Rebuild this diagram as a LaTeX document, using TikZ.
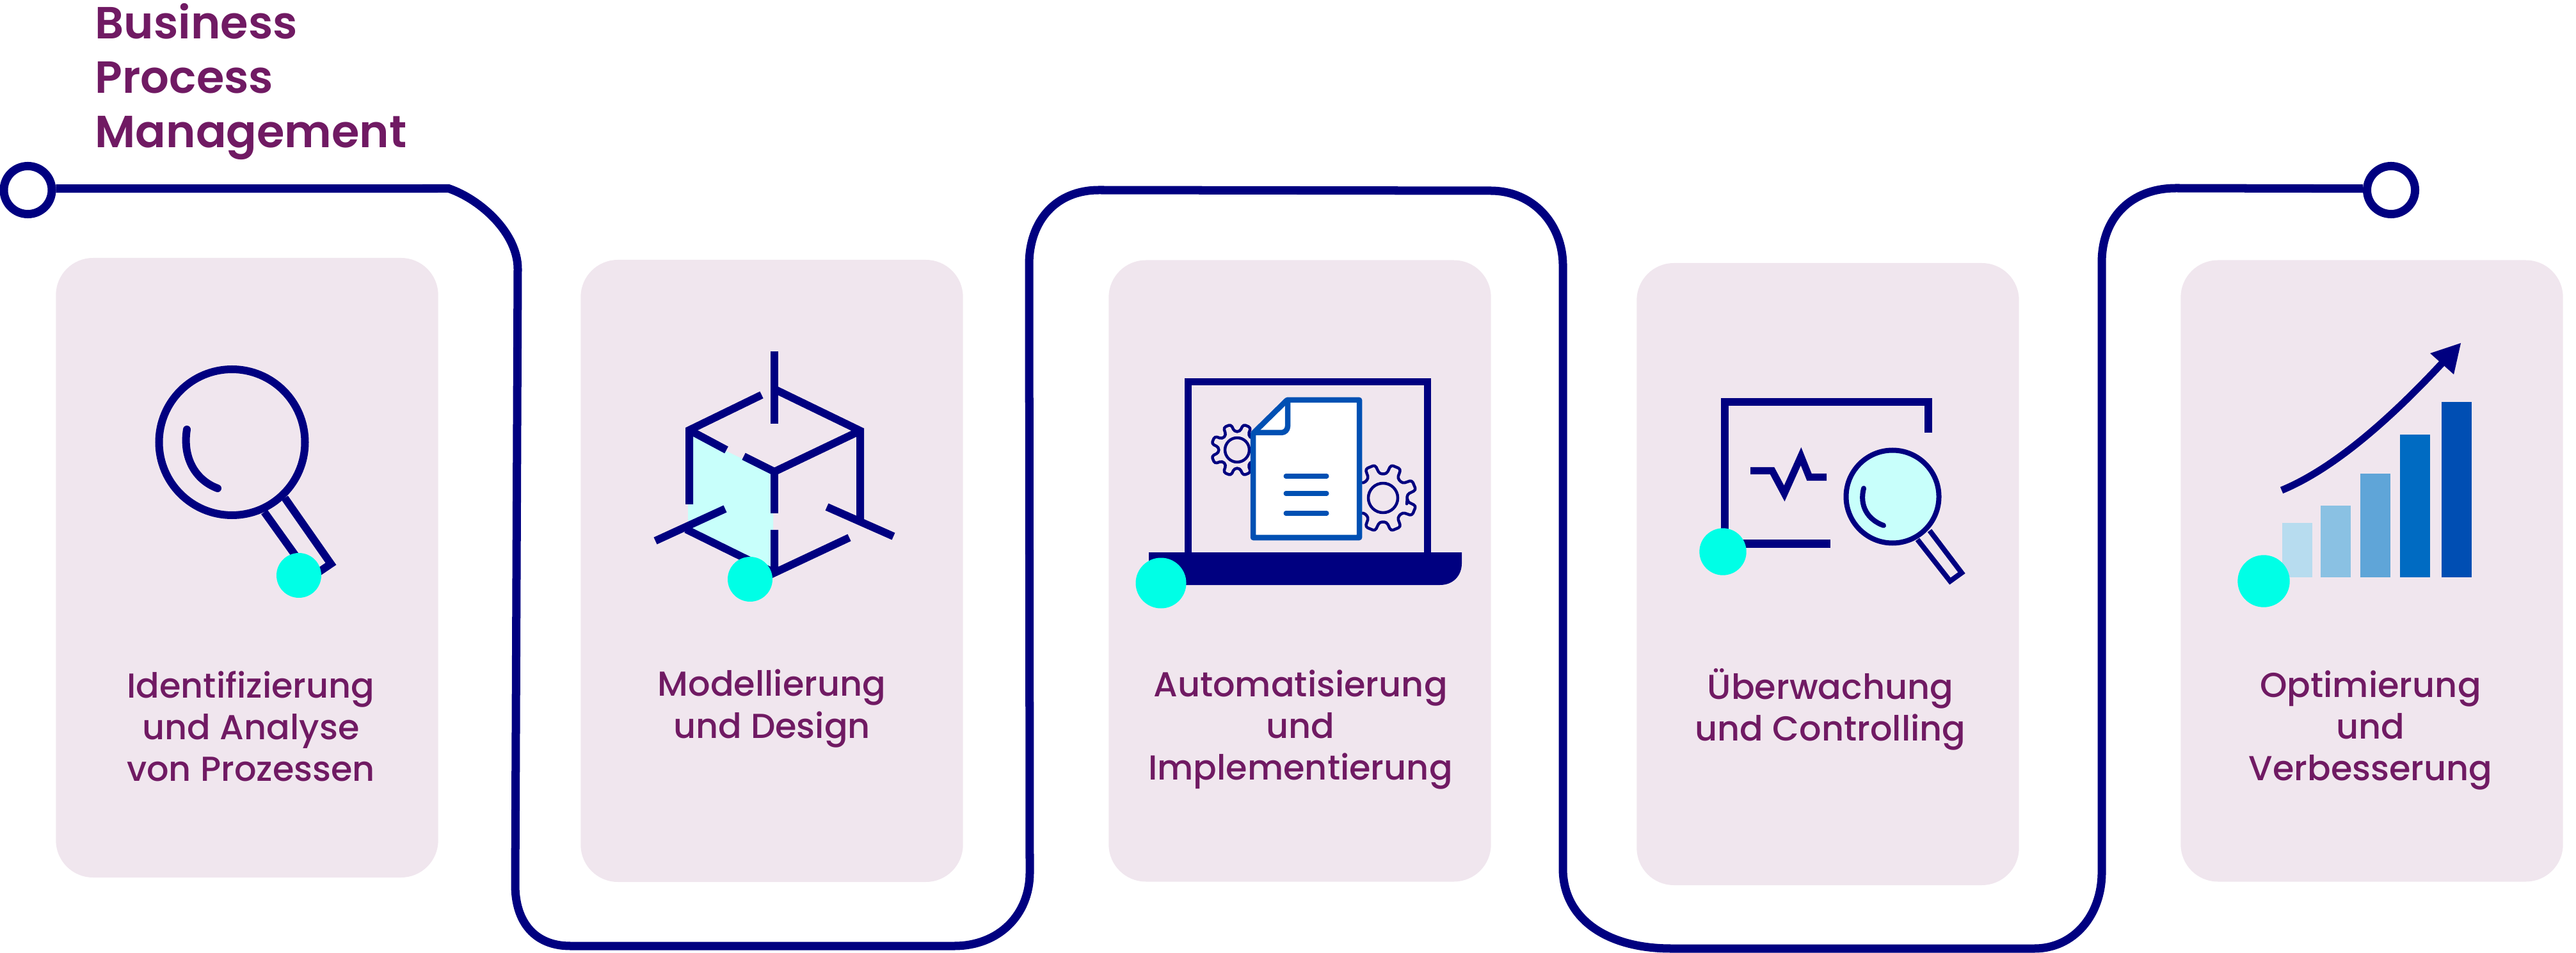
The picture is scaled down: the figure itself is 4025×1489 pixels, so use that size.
\documentclass[tikz,border=0pt]{standalone}
\usepackage{fontspec}
\setmainfont{Poppins Medium}
\newfontfamily\titlefont{Poppins SemiBold}
\definecolor{navyline}{HTML}{000080}
\definecolor{cardtint}{HTML}{F0E6EE}
\definecolor{dotcyan}{HTML}{00FFE6}
\definecolor{glasscyan}{HTML}{C8FFFB}
\definecolor{labelplum}{HTML}{701A63}
\definecolor{docblue}{HTML}{0050B3}
\begin{document}
\begin{tikzpicture}[
  x=0.01cm, y=-0.01cm,
  line join=miter,
  track/.style={line width=1.3mm, draw=navyline},
  ringnode/.style={circle, draw=navyline, line width=1.3mm, minimum size=7.5mm, inner sep=0pt},
  cardbox/.style={rectangle, fill=cardtint, rounded corners=5.8mm, minimum width=5.97cm, inner sep=0pt},
  steplabel/.style={text=labelplum, align=center, inner sep=0pt, font=\fontsize{15.4}{18.5}\selectfont},
  titlelabel/.style={text=labelplum, align=left, inner sep=0pt, anchor=north west, font=\titlefont\fontsize{20}{24.1}\selectfont},
  iconline/.style={line width=1.2mm, draw=navyline},
  thinline/.style={line width=0.8mm, draw=navyline},
  gearline/.style={line width=0.45mm, draw=navyline, line join=round},
  docline/.style={line width=0.85mm, draw=docblue, line join=round},
  textline/.style={line width=0.7mm, draw=docblue, line cap=round},
  dot/.style={fill=dotcyan},
]
\useasboundingbox (0,0) rectangle (4025,1489);

% the five cards with their labels
\foreach \cname/\cx/\cy/\ch/\lx/\ly/\ctext in {
  identify/386/887/968/392/1135/{Identifizierung\\und Analyse\\von Prozessen},
  model/1206/892/972/1206/1107/{Modellierung\\und Design},
  automate/2031/892/971/2032/1140/{Automatisierung\\und\\Implementierung},
  monitor/2856/897/972/2860/1108/{Überwachung\\und Controlling},
  optimize/3706/892/971/3704/1141/{Optimierung\\und\\Verbesserung}} {
  \node[cardbox, minimum height=\ch*0.01cm] (card\cname) at (\cx,\cy) {};
  \node[steplabel] (label\cname) at (\lx,\ly) {\ctext};
}

\node[titlelabel] (title) at (148,5) {Business\\Process\\Management};

% the track
\node[ringnode] (start) at (43.5,297) {};
\node[ringnode] (stop) at (3736,297) {};
\draw[track] (start.3) -- (701,294.5)
  .. controls (752,312) and (809,365) .. (809,420) -- (805,1383)
  .. controls (805,1440) and (835,1478) .. (891,1478) -- (1491,1478)
  .. controls (1560,1478) and (1609,1430) .. (1609,1363) -- (1608,413)
  .. controls (1608,345) and (1650,297) .. (1717,297) -- (2329,298)
  .. controls (2395,298) and (2442,350) .. (2442,415) -- (2442,1357)
  .. controls (2442,1435) and (2510,1482) .. (2611,1482) -- (3179,1482)
  .. controls (3240,1482) and (3284,1430) .. (3284,1363) -- (3284,410)
  .. controls (3284,340) and (3330,294) .. (3400,294) -- (stop.177);

% magnifying glass
\draw[iconline] (362.5,691) circle (114);
\draw[iconline, line cap=round] (292,671) .. controls (285,715) and (305,750) .. (340,763);
\draw[iconline] (413,800) -- (486,902) -- (517,881) -- (445,778);
\fill[dot] (467,899) circle (35);

% the cube
\fill[glasscyan] (1075,676) -- (1208,740) -- (1208,893) -- (1075,826) -- cycle;
\draw[iconline] (1210,549) -- (1210,662);
\draw[iconline] (1190,617) -- (1077,672) -- (1077,788);
\draw[iconline] (1210,608) -- (1344,673) -- (1344,813);
\draw[iconline] (1077,672) -- (1135,703);
\draw[iconline] (1162,713) -- (1210,737) -- (1344,673);
\draw[iconline] (1210,737) -- (1210,802);
\draw[iconline] (1210,828) -- (1210,895) -- (1327,840);
\draw[iconline] (1292,792) -- (1396,838);
\draw[iconline] (1024,845) -- (1133,795);
\draw[iconline] (1072,827) -- (1210,895);
\fill[dot] (1172,905) circle (35);

% laptop with the gears and the sheet
\draw[line width=1.1mm, draw=navyline] (1856.5,870) -- (1856.5,596.5) -- (2230.5,596.5) -- (2230.5,870);
\fill[navyline] (1795,863) -- (2284,863) -- (2284,880) .. controls (2284,900) and (2270,914) .. (2250,914) -- (1795,914) -- cycle;
\foreach \gx/\gy/\gout/\gin/\ghole in {1933/703/41/29/19, 2161/778/53/38/23} {
  \begin{scope}[shift={(\gx,\gy)}]
    \draw[gearline, rounded corners=0.4mm] (8:\gin)
      \foreach \t in {22.5,67.5,...,337.5} { -- (\t-14:\gin) -- (\t-9:\gout) -- (\t+9:\gout) -- (\t+14:\gin) } -- cycle;
    \draw[gearline] (0,0) circle (\ghole);
  \end{scope}
}
\draw[docline, fill=white] (1958,677) -- (2011,625) -- (2124,625) -- (2124,840) -- (1958,840) -- cycle;
\draw[docline, rounded corners=1mm] (2012,625) -- (2012,676) -- (1958,676);
\foreach \ty in {744,771,802} {
  \draw[textline] (2009,\ty) -- (2073,\ty);
}
\fill[dot] (1814,911) circle (39.5);

% the chart on the screen
\draw[iconline] (3013,676) -- (3013,628) -- (2695,628) -- (2695,849.5) -- (2860,849.5);
\draw[line width=1.1mm, draw=navyline] (2735,735.5) -- (2769,735.5) -- (2788,771) -- (2814,713) -- (2827,745.5) -- (2854,745.5);
\draw[thinline, fill=glasscyan] (2957,776) circle (72.5);
\draw[thinline, line cap=round] (2912,763) .. controls (2905,790) and (2918,812) .. (2943,821);
\draw[thinline] (2996,843) -- (3047,908) -- (3065,895) -- (3015,829);
\fill[dot] (2692,862) circle (36.7);

% the bars and the arrow
\foreach \bl/\bt/\bcol in {3566/817/B7DCEF, 3626/790/8AC1E3, 3688/740/5FA5D8, 3750/679/006BC2, 3815/628/004EB3} {
  \definecolor{barcol}{HTML}{\bcol}
  \fill[barcol] (\bl,\bt) rectangle (\bl+47,902);
}
\draw[line width=1.1mm, draw=navyline] (3565,766) .. controls (3640,735) and (3725,665) .. (3817,566);
\fill[navyline] (3845,536) -- (3797,552) -- (3815,568) -- (3834,585) -- cycle;
\fill[dot] (3537,908) circle (40.7);

\end{tikzpicture}
\end{document}
